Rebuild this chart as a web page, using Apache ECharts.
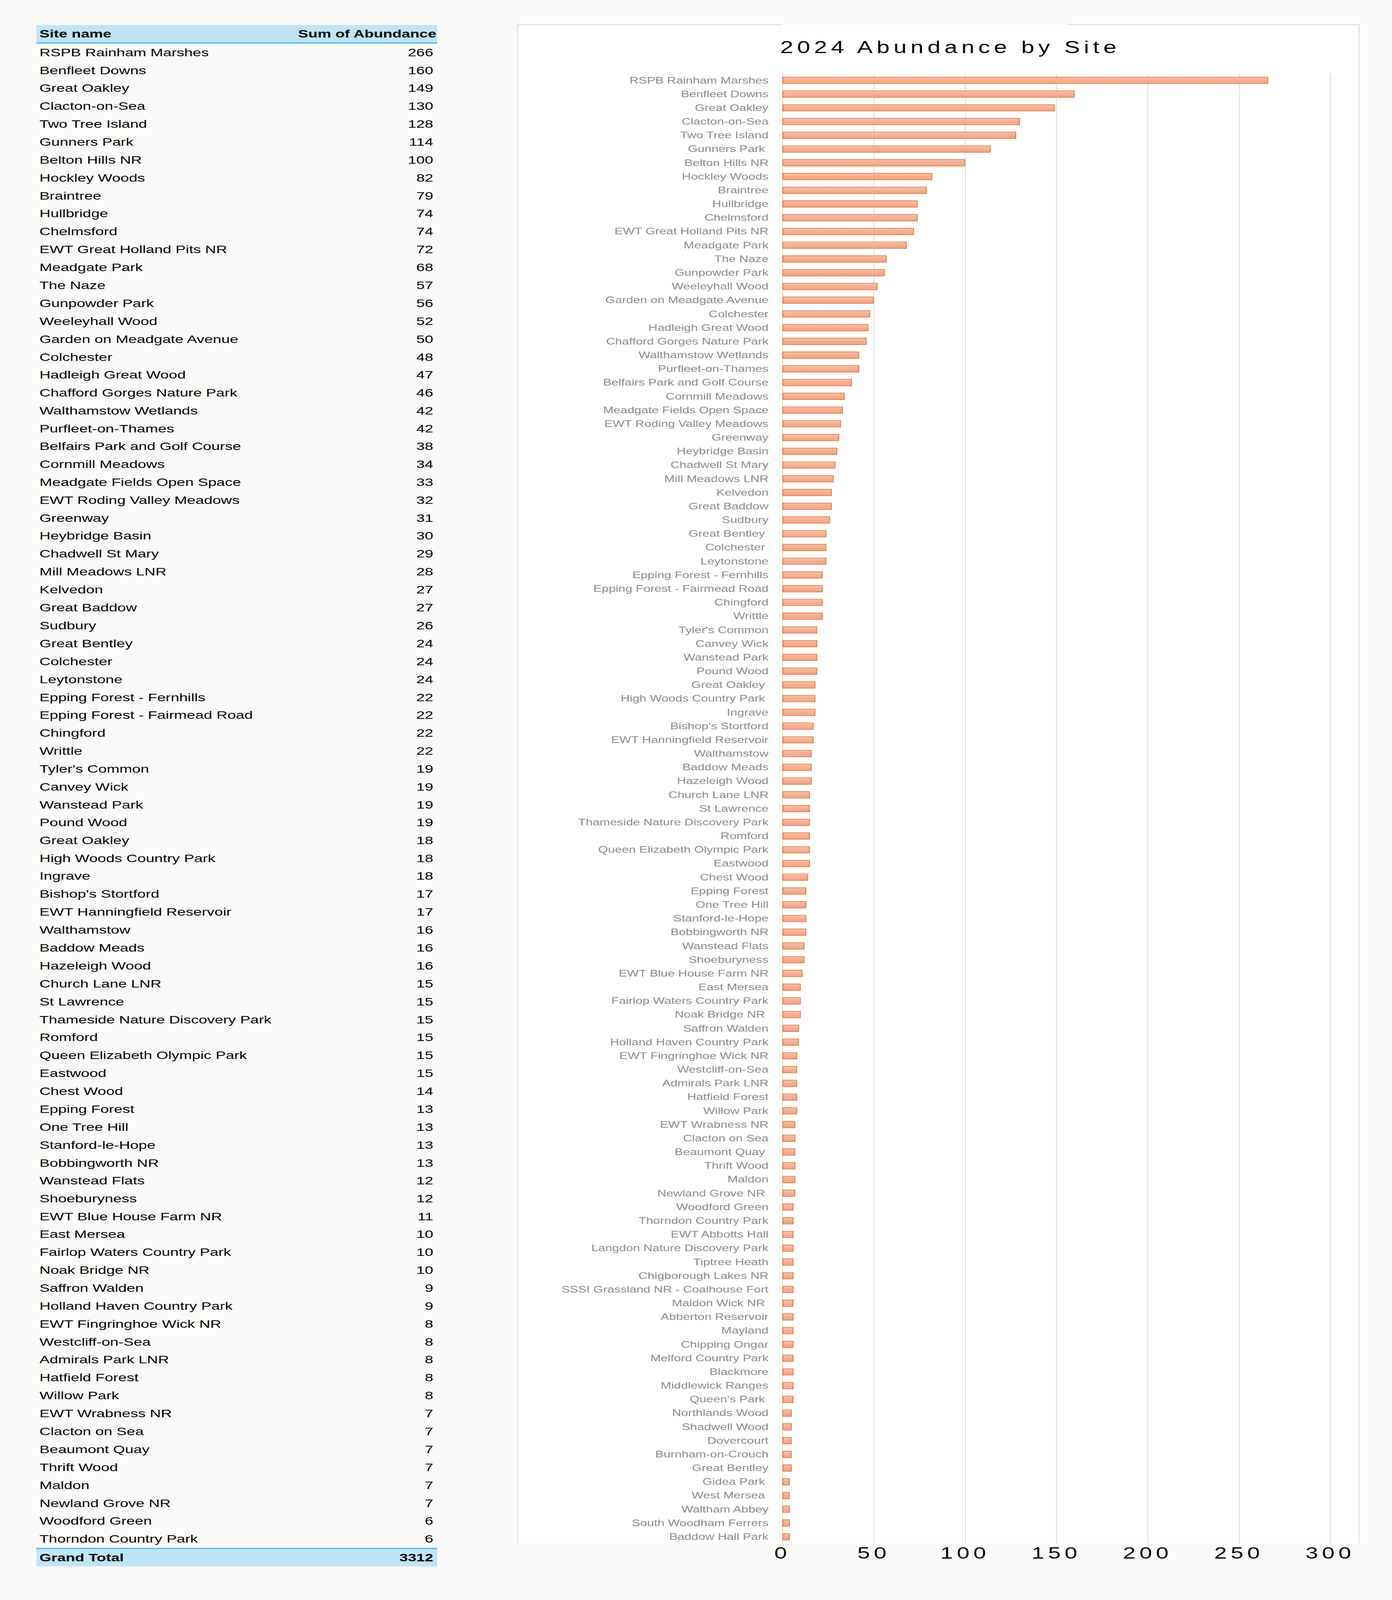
<!DOCTYPE html>
<html>
<head>
<meta charset="utf-8">
<script src="https://cdn.jsdelivr.net/npm/echarts@6/dist/echarts.min.js"></script>
<style>
html,body{margin:0;padding:0;background:#FAFAF8;overflow:hidden;width:100%;height:100%;}
#page{position:absolute;left:0;top:0;width:3563px;height:5619px;transform-origin:0 0;background:#FAFAF8;}
#box{position:absolute;left:1324px;top:86px;width:2152px;height:5335px;background:#FFFFFF;border-left:2px solid #D9D9D9;border-right:2px solid #D9D9D9;}
.topline{position:absolute;top:85px;height:3px;background:#DEDEDE;}
#chart{position:absolute;left:0;top:0;width:3563px;height:5619px;}
#tbl{position:absolute;left:93px;top:88px;width:1026px;font-family:'Liberation Sans',Arial,sans-serif;font-size:39px;color:#000;}
.row{display:flex;justify-content:space-between;align-items:center;box-sizing:border-box;height:62.9px;padding:0 10px 0 8px;white-space:nowrap;}
.head{height:65px;background:#C0E4F6;border-bottom:4px solid #47B5E8;font-weight:bold;padding-right:2px;}
.foot{height:65px;background:#C0E4F6;border-top:4px solid #47B5E8;font-weight:bold;}
#chart text[style*="Spaced"]{letter-spacing:10px;}
#chart text{white-space:pre;}
</style>
</head>
<body>
<div id="page">
  <div id="box"></div>
  <div class="topline" style="left:1324px;width:677px;"></div>
  <div class="topline" style="left:2734px;width:744px;"></div>
  <div id="chart"></div>
  <div id="tbl"></div>
</div>
<script>
// ---- data ----
const sites = [
  "RSPB Rainham Marshes","Benfleet Downs","Great Oakley","Clacton-on-Sea","Two Tree Island",
  "Gunners Park ","Belton Hills NR","Hockley Woods","Braintree","Hullbridge",
  "Chelmsford","EWT Great Holland Pits NR","Meadgate Park","The Naze","Gunpowder Park",
  "Weeleyhall Wood","Garden on Meadgate Avenue","Colchester","Hadleigh Great Wood","Chafford Gorges Nature Park",
  "Walthamstow Wetlands","Purfleet-on-Thames","Belfairs Park and Golf Course","Cornmill Meadows","Meadgate Fields Open Space",
  "EWT Roding Valley Meadows","Greenway","Heybridge Basin","Chadwell St Mary","Mill Meadows LNR",
  "Kelvedon","Great Baddow","Sudbury","Great Bentley ","Colchester ",
  "Leytonstone","Epping Forest - Fernhills","Epping Forest - Fairmead Road","Chingford","Writtle",
  "Tyler's Common","Canvey Wick","Wanstead Park","Pound Wood","Great Oakley ",
  "High Woods Country Park ","Ingrave","Bishop's Stortford","EWT Hanningfield Reservoir","Walthamstow",
  "Baddow Meads","Hazeleigh Wood","Church Lane LNR","St Lawrence","Thameside Nature Discovery Park",
  "Romford","Queen Elizabeth Olympic Park","Eastwood","Chest Wood","Epping Forest",
  "One Tree Hill","Stanford-le-Hope","Bobbingworth NR","Wanstead Flats","Shoeburyness",
  "EWT Blue House Farm NR","East Mersea","Fairlop Waters Country Park","Noak Bridge NR ","Saffron Walden",
  "Holland Haven Country Park","EWT Fingringhoe Wick NR","Westcliff-on-Sea","Admirals Park LNR","Hatfield Forest",
  "Willow Park","EWT Wrabness NR","Clacton on Sea","Beaumont Quay ","Thrift Wood",
  "Maldon","Newland Grove NR ","Woodford Green","Thorndon Country Park","EWT Abbotts Hall",
  "Langdon Nature Discovery Park","Tiptree Heath","Chigborough Lakes NR","SSSI Grassland NR - Coalhouse Fort","Maldon Wick NR ",
  "Abberton Reservoir","Mayland","Chipping Ongar","Melford Country Park","Blackmore",
  "Middlewick Ranges","Queen's Park ","Northlands Wood","Shadwell Wood","Dovercourt",
  "Burnham-on-Crouch","Great Bentley","Gidea Park ","West Mersea ","Waltham Abbey",
  "South Woodham Ferrers","Baddow Hall Park"
];
const abundance = [
  266,160,149,130,128,
  114,100,82,79,74,
  74,72,68,57,56,
  52,50,48,47,46,
  42,42,38,34,33,
  32,31,30,29,28,
  27,27,26,24,24,
  24,22,22,22,22,
  19,19,19,19,18,
  18,18,17,17,16,
  16,16,15,15,15,
  15,15,15,14,13,
  13,13,13,12,12,
  11,10,10,10,9,
  9,8,8,8,8,
  8,7,7,7,7,
  7,7,6,6,6,
  6,6,6,6,6,
  6,6,6,6,6,
  6,6,5,5,5,
  5,5,4,4,4,
  4,4
];
const tableHeader = ["Site name", "Sum of Abundance"];
const tableSites = sites.slice(0, 84).map(s => s.trim());
const tableValues = abundance.slice(0, 84);
const grandTotalLabel = "Grand Total";
const grandTotal = 3312;
const chartTitle = "2024 Abundance by Site";
const xTicks = { min: 0, max: 300, interval: 50 };

// ---- fit the 3563x5619 design into the actual window ----
const DESIGN_W = 3563, DESIGN_H = 5619;
const page = document.getElementById('page');
const sx = Math.min(1, window.innerWidth / DESIGN_W);
const sy = Math.min(1, window.innerHeight / DESIGN_H);
page.style.transform = 'scale(' + sx + ',' + sy + ')';

// ---- table ----
const tbl = document.getElementById('tbl');
function addRow(cls, a, b) {
  const r = document.createElement('div');
  r.className = 'row' + (cls ? ' ' + cls : '');
  const s1 = document.createElement('span'); s1.textContent = a;
  const s2 = document.createElement('span'); s2.textContent = b;
  r.appendChild(s1); r.appendChild(s2);
  tbl.appendChild(r);
}
addRow('head', tableHeader[0], tableHeader[1]);
tableSites.forEach((s, i) => addRow('', s, String(tableValues[i])));
addRow('foot', grandTotalLabel, String(grandTotal));

// ---- chart ----
const chart = echarts.init(document.getElementById('chart'), null, { renderer: 'svg', width: DESIGN_W, height: DESIGN_H });
chart.setOption({
  backgroundColor: 'transparent',
  animation: false,
  title: {
    text: chartTitle,
    left: 1997, top: 136, padding: 0,
    textStyle: { fontFamily: "Liberation Sans, Spaced", fontSize: 60, fontWeight: 'normal', color: '#000000', lineHeight: 60 }
  },
  grid: { left: 2003, top: 258, width: 1402, height: 5163, containLabel: false },
  xAxis: {
    type: 'value', min: xTicks.min, max: xTicks.max, interval: xTicks.interval,
    axisLine: { show: false }, axisTick: { show: false },
    splitLine: { show: true, lineStyle: { color: '#D9D9D9', width: 2 } },
    axisLabel: { fontFamily: "Liberation Sans, Spaced", fontSize: 58, color: '#000000', margin: 4, showMaxLabel: true, showMinLabel: true }
  },
  yAxis: {
    type: 'category', inverse: true, data: sites,
    axisLine: { show: true, lineStyle: { color: '#D9D9D9', width: 2 } },
    axisTick: { show: false },
    axisLabel: { interval: 0, fontFamily: "Liberation Sans", fontSize: 32, color: '#8C8C8C', margin: 36 }
  },
  series: [{
    type: 'bar',
    data: abundance,
    barWidth: 25,
    itemStyle: {
      color: new echarts.graphic.LinearGradient(0, 0, 0, 1, [
        { offset: 0, color: '#F6C0A9' },
        { offset: 1, color: '#F1A184' }
      ]),
      borderColor: '#E97132',
      borderWidth: 2
    }
  }]
});
</script>
</body>
</html>
